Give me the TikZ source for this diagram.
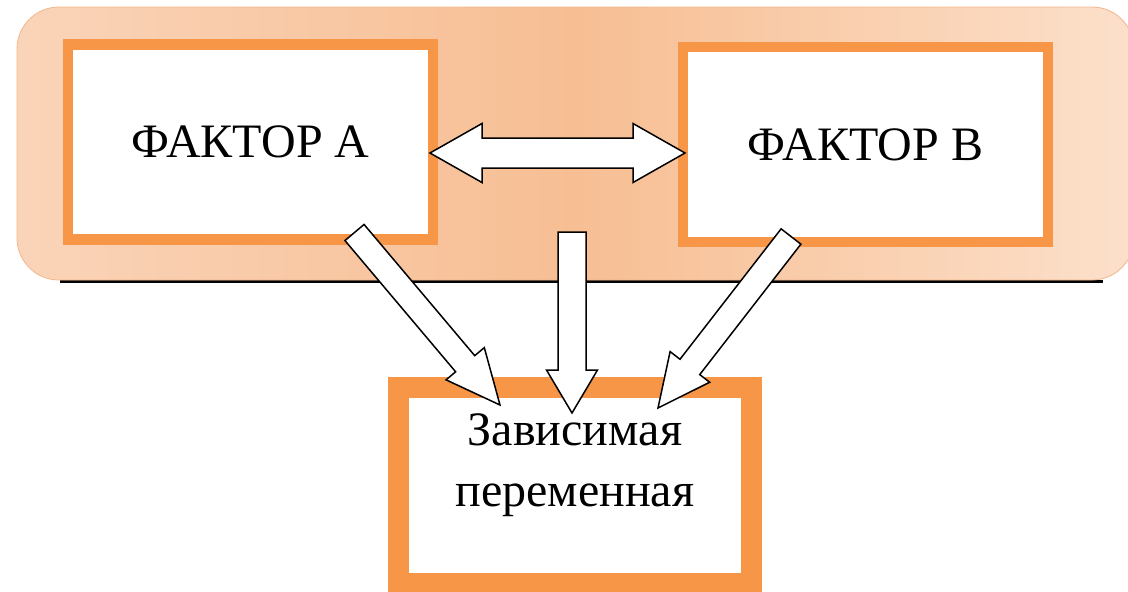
\documentclass[tikz,border=0pt]{standalone}
\usepackage{fontspec}
\setmainfont{Liberation Serif}
\usetikzlibrary{calc}
\usetikzlibrary{positioning}

\definecolor{boxorange}{HTML}{F79646}
\definecolor{bgleft}{HTML}{FAD4B9}
\definecolor{bgmid}{HTML}{F7BE93}
\definecolor{bgright}{HTML}{FCE0CB}
\definecolor{bgedge}{HTML}{F2B68A}

% block arrow: tail, tip, shaft half width, head half width, head length
\newcommand{\blockarrow}[5]{%
  \coordinate (ba-base) at ($(#2)!#5!(#1)$);
  \draw [arrowshape] ($(#1)!#3!90:(#2)$) -- ($(ba-base)!#3!90:(#2)$) -- ($(ba-base)!#4!90:(#2)$) -- (#2)
    -- ($(ba-base)!#4!-90:(#2)$) -- ($(ba-base)!#3!-90:(#2)$) -- ($(#1)!#3!-90:(#2)$) -- cycle;
}
% two-headed block arrow
\newcommand{\doublearrow}[5]{%
  \coordinate (da-one) at ($(#1)!#5!(#2)$);
  \coordinate (da-two) at ($(#2)!#5!(#1)$);
  \draw [arrowshape] (#1) -- ($(da-one)!#4!90:(#2)$) -- ($(da-one)!#3!90:(#2)$) -- ($(da-two)!#3!90:(#2)$)
    -- ($(da-two)!#4!90:(#2)$) -- (#2) -- ($(da-two)!#4!-90:(#2)$) -- ($(da-two)!#3!-90:(#2)$)
    -- ($(da-one)!#3!-90:(#2)$) -- ($(da-one)!#4!-90:(#2)$) -- cycle;
}

\begin{document}
\begin{tikzpicture}
[x=1pt, y=-1pt,
 every node/.style={inner sep=0pt, outer sep=0pt},
 factor/.style={rectangle, draw=boxorange, fill=white, line width=10.5pt, minimum width=365pt, minimum height=195pt, font=\fontsize{48}{61}\selectfont},
 result/.style={rectangle, draw=boxorange, fill=white, line width=21pt, minimum width=353pt, minimum height=196pt},
 arrowshape/.style={draw=black, fill=white, line width=1.5pt, line join=miter}]
\useasboundingbox (0,0) rectangle (1128,592);

% background band
\draw [line width=2.5pt] (60,281.5) -- (1103,281.5);
\shade [left color=bgleft, right color=bgright, middle color=bgmid, draw=bgedge, line width=0.8pt, rounded corners=42pt] (17,7) rectangle (1134,280);

% boxes
\node (fa) [factor] at (250.5,142) {ФАКТОР А};
\node (fb) [factor] at (865.5,144.5) {ФАКТОР В};
\node (dep) [result] at (575,485.5) {};
\node (deptext) [below=26.5pt of dep.north, align=center, font=\fontsize{48}{61}\selectfont] {Зависимая\\переменная};

% arrow ends
\coordinate (fa-right) at ($(fa.east)+(-3,11)$);
\coordinate (fb-left) at ($(fb.west)+(2,8.5)$);
\coordinate (fa-tail) at ($(fa.south east)+(-78.5,-7)$);
\coordinate (mid-tail) at ($(dep.north)+(-3,-155.5)$);
\coordinate (fb-tail) at ($(fb.south west)+(108,-5.5)$);
\coordinate (dep-left) at ($(dep.north)+(-75,17.5)$);
\coordinate (dep-mid) at ($(dep.north)+(-3,25.5)$);
\coordinate (dep-right) at ($(dep.north)+(83,20.5)$);

% arrows
\doublearrow{fa-right}{fb-left}{15pt}{29.5pt}{52pt}
\blockarrow{fa-tail}{dep-left}{12.5pt}{25pt}{54pt}
\blockarrow{mid-tail}{dep-mid}{14pt}{25.5pt}{43pt}
\blockarrow{fb-tail}{dep-right}{12.5pt}{25pt}{52pt}
\end{tikzpicture}
\end{document}
